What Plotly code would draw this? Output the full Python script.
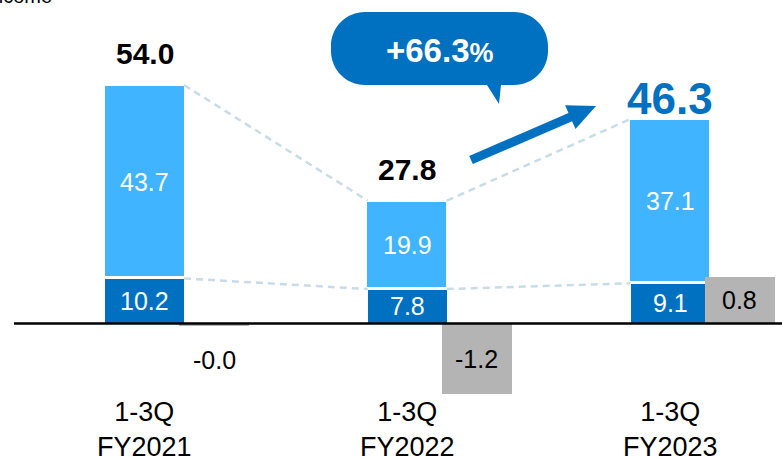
import plotly.graph_objects as go

# ---------------- data ----------------
categories = ["1-3Q<br>FY2021", "1-3Q<br>FY2022", "1-3Q<br>FY2023"]
dark_values = [10.2, 7.8, 9.1]
light_values = [43.7, 19.9, 37.1]
total_values = [54.0, 27.8, 46.3]
gray_values = [-0.04, -1.2, 0.8]
growth_text = "+66.3"
top_left_text = "Net income"

# ---------------- style ----------------
W, H = 782, 457
BLUE_DARK = "#0070c0"
BLUE_LIGHT = "#40b4ff"
GRAY = "#b4b4b4"
DASH = "#c8dce8"
FONT = "Liberation Sans, Arial, sans-serif"

PX_PER_CAT = 262.75
bar_w = 79 / PX_PER_CAT
gray_w = 70 / PX_PER_CAT
gray_off = 34.5 / PX_PER_CAT
x_idx = list(range(len(categories)))

fig = go.Figure()
fig.add_trace(go.Bar(x=x_idx, y=dark_values, width=bar_w,
                     marker=dict(color=BLUE_DARK, line=dict(width=0)), hoverinfo="skip"))
fig.add_trace(go.Bar(x=x_idx, y=light_values, width=bar_w + 3 / PX_PER_CAT,
                     marker=dict(color=BLUE_LIGHT, line=dict(color="white", width=3)), hoverinfo="skip"))
fig.add_trace(go.Bar(x=x_idx, y=gray_values, width=gray_w, offset=gray_off, yaxis="y2",
                     marker=dict(color=GRAY, line=dict(width=0)), hoverinfo="skip"))

# dashed connectors between bars (totals and dark tops)
cx, cy = [], []
for series in (total_values, dark_values):
    for i in range(len(x_idx) - 1):
        cx += [x_idx[i] + bar_w / 2, x_idx[i + 1] - bar_w / 2, None]
        cy += [series[i], series[i + 1], None]
fig.add_trace(go.Scatter(x=cx, y=cy, mode="lines", hoverinfo="skip",
                         line=dict(color=DASH, width=2.5, dash="7px,5px")))

ann = []
for i, x in enumerate(x_idx):
    ann.append(dict(x=x, y=dark_values[i] / 2, text=f"{dark_values[i]:.1f}", showarrow=False,
                    xanchor="center", yanchor="middle",
                    font=dict(size=25, color="white", family=FONT)))
    ann.append(dict(x=x, y=dark_values[i] + light_values[i] / 2, text=f"{light_values[i]:.1f}",
                    showarrow=False, xanchor="center", yanchor="middle",
                    font=dict(size=25, color="white", family=FONT)))
    last = i == len(x_idx) - 1
    ann.append(dict(x=x, y=total_values[i], text=f"<b>{total_values[i]:.1f}</b>", showarrow=False,
                    xanchor="center", yanchor="middle", yshift=21 if last else 31,
                    font=dict(size=44 if last else 30, color=BLUE_DARK if last else "black", family=FONT)))
    g = gray_values[i]
    gy = g / 2 if abs(g) > 0.3 else g - 0.58
    ann.append(dict(x=x + gray_off + gray_w / 2, y=gy, yref="y2", text=f"{g:.1f}", showarrow=False,
                    xanchor="center", yanchor="middle",
                    font=dict(size=25, color="black", family=FONT)))
    ann.append(dict(x=x, y=1 - 429 / H, yref="paper", text=categories[i], showarrow=False,
                    xanchor="center", yanchor="middle", font=dict(size=27, color="black", family=FONT)))

ann.append(dict(x=440 / W, y=1 - 50 / H, xref="paper", yref="paper", showarrow=False,
                xanchor="center", yanchor="middle",
                text=f"<b>{growth_text}<span style='font-size:27px'>%</span></b>",
                font=dict(size=33, color="white", family=FONT)))
ann.append(dict(x=54 / W, y=1 - 9 / H, xref="paper", yref="paper", showarrow=False,
                xanchor="right", yanchor="bottom", text=top_left_text,
                font=dict(size=20, color="black", family=FONT)))


def P(x, y):
    return f"{x / W:.5f},{1 - y / H:.5f}"


# speech bubble
x0, x1, y0, y1, r = 331, 548, 12, 85, 34
k = 0.5523 * r
bubble = (f"M{P(x0 + r, y0)} L{P(x1 - r, y0)} C{P(x1 - r + k, y0)} {P(x1, y0 + r - k)} {P(x1, y0 + r)} "
          f"L{P(x1, y1 - r)} C{P(x1, y1 - r + k)} {P(x1 - r + k, y1)} {P(x1 - r, y1)} "
          f"L{P(501, y1)} L{P(499, 104)} L{P(487, y1)} L{P(x0 + r, y1)} "
          f"C{P(x0 + r - k, y1)} {P(x0, y1 - r + k)} {P(x0, y1 - r)} L{P(x0, y0 + r)} "
          f"C{P(x0, y0 + r - k)} {P(x0 + r - k, y0)} {P(x0 + r, y0)} Z")
# arrow
arrow_pts = [(472.8, 164.1), (572.1, 121.2), (575.5, 129.0), (596, 106), (565.1, 105.2),
             (568.5, 113.0), (469.2, 155.9)]
arrow = "M" + " L".join(P(a, b) for a, b in arrow_pts) + " Z"

shapes = [
    dict(type="path", xref="paper", yref="paper", path=bubble, fillcolor=BLUE_DARK,
         line=dict(width=0), layer="above"),
    dict(type="path", xref="paper", yref="paper", path=arrow, fillcolor=BLUE_DARK,
         line=dict(width=0), layer="above"),
    dict(type="line", xref="paper", yref="y", x0=14 / W, x1=1, y0=0, y1=0,
         line=dict(color="black", width=2.5), layer="above"),
]

fig.update_layout(
    width=W, height=H, margin=dict(l=0, r=0, t=0, b=0),
    paper_bgcolor="white", plot_bgcolor="white",
    barmode="stack", showlegend=False, bargap=0,
    xaxis=dict(range=[-144.5 / PX_PER_CAT, (W - 144.5) / PX_PER_CAT], visible=False, fixedrange=True),
    yaxis=dict(range=[-30.22, 73.24], visible=False, fixedrange=True),
    yaxis2=dict(range=[-2.278, 5.520], overlaying="y", visible=False, fixedrange=True),
    annotations=ann, shapes=shapes,
)

fig.write_html("out.html", config={"displayModeBar": False},
               post_script="document.body.style.margin='0';document.body.style.overflow='hidden';")
